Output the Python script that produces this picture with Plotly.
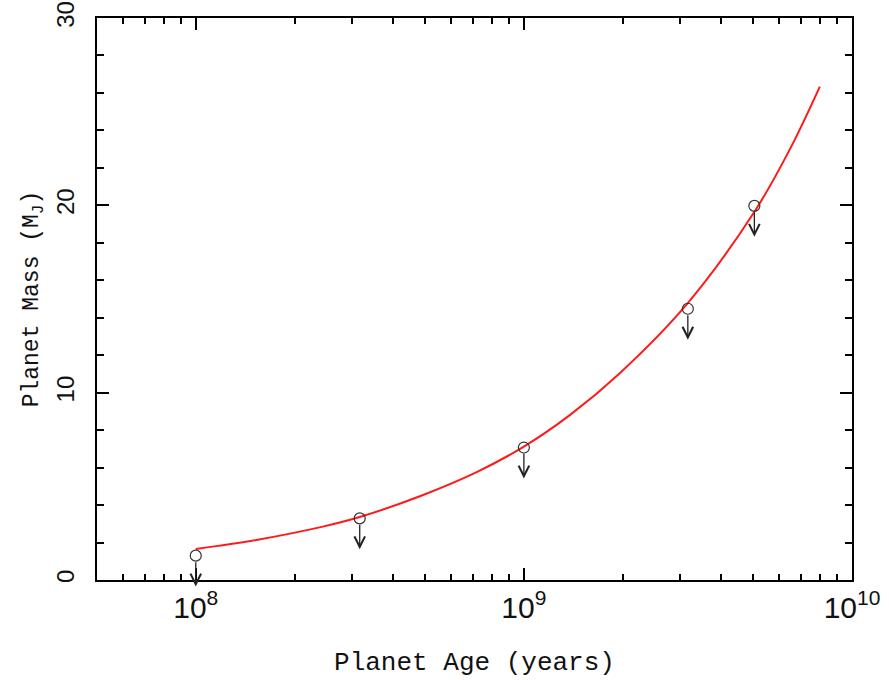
import math
import plotly.graph_objects as go

# measured upper limits (age in years, mass in Jupiter masses)
ages = [1.0e8, 3.16e8, 1.0e9, 3.16e9, 5.04e9]
masses = [1.30, 3.29, 7.07, 14.48, 19.97]

# model curve
curve_age = [1.0e8, 1.53e8, 2.44e8, 3.16e8, 4.93e8, 7.18e8, 1.0e9, 1.38e9,
             1.96e9, 3.13e9, 5.06e9, 6.47e9, 7.98e9]
curve_mass = [1.66, 2.14, 2.85, 3.36, 4.54, 5.76, 7.12, 8.8,
              11.04, 14.7, 19.7, 23.0, 26.34]

arrow_len = 1.65  # in mass units (about 31 px)

fig = go.Figure()

fig.add_trace(go.Scatter(
    x=curve_age, y=curve_mass, mode="lines",
    line=dict(color="#ff1a1a", width=2, shape="spline", smoothing=1.0),
    showlegend=False, hoverinfo="skip"
))

fig.add_trace(go.Scatter(
    x=ages, y=masses, mode="markers",
    marker=dict(symbol="circle-open", size=11, color="#333333",
                line=dict(width=1.2, color="#333333")),
    showlegend=False, cliponaxis=False
))

# downward arrows for upper limits (annotation x is log10 on a log axis)
for a, m in zip(ages, masses):
    lx = math.log10(a)
    fig.add_annotation(
        x=lx, y=m - arrow_len, ax=lx, ay=m,
        xref="x", yref="y", axref="x", ayref="y",
        showarrow=True, arrowhead=5, arrowsize=1.6, arrowwidth=1.3,
        startstandoff=5, arrowcolor="#222222", text=""
    )

tick_font = dict(family="Liberation Sans, Arial, sans-serif", size=24, color="#111111")
xtitle_font = dict(family="Liberation Mono, Courier New, monospace", size=26, color="#111111")
ytitle_font = dict(family="Liberation Mono, Courier New, monospace", size=23, color="#111111")

fig.update_layout(
    width=889, height=680,
    margin=dict(l=97, r=37, t=18, b=100),
    plot_bgcolor="white", paper_bgcolor="white",
    xaxis=dict(
        type="log", range=[7.699, 10], automargin=False,
        showgrid=False, zeroline=False,
        showline=True, linecolor="black", linewidth=2, mirror="ticks",
        ticks="inside", ticklen=12, tickwidth=1.5, tickcolor="black",
        dtick=1, exponentformat="power", tickfont=tick_font, ticklabelstandoff=1,
        ticklabeloverflow="allow",
        minor=dict(ticks="inside", ticklen=6, tickwidth=1.5, tickcolor="black",
                   dtick="D1", showgrid=False),
        title=dict(text="Planet Age (years)", font=xtitle_font, standoff=29),
    ),
    yaxis=dict(
        range=[0, 30], automargin=False,
        showgrid=False, zeroline=False,
        showline=True, linecolor="black", linewidth=2, mirror="ticks",
        ticks="inside", ticklen=12, tickwidth=1.5, tickcolor="black",
        dtick=10, tickangle=-90, tickfont=tick_font, ticklabelstandoff=11,
        ticklabeloverflow="allow",
        minor=dict(ticks="inside", ticklen=7, tickwidth=1.5, tickcolor="black",
                   dtick=2, showgrid=False),
        title=dict(text="Planet Mass (M<sub>J</sub>)", font=ytitle_font, standoff=7),
    ),
)

# drop the default page margin so the figure sits at the window's corner
fig.write_html("out.html", config={"displayModeBar": False},
               post_script="document.body.style.margin='0';")
